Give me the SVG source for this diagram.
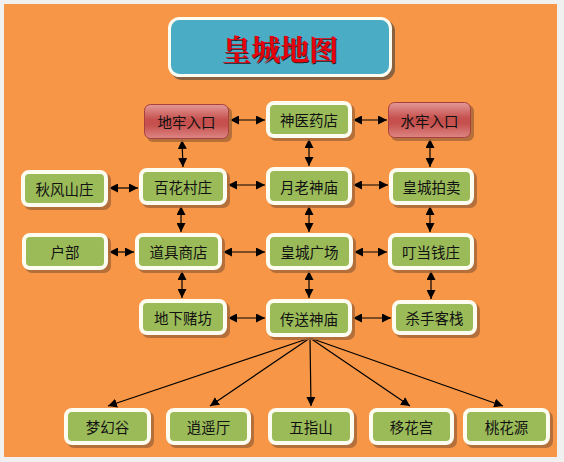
<svg xmlns="http://www.w3.org/2000/svg" width="564" height="462" viewBox="0 0 564 462">
<defs>
<linearGradient id="redg" x1="0" y1="0" x2="0" y2="1">
<stop offset="0" stop-color="#e39a98"/>
<stop offset="0.45" stop-color="#c5504d"/>
<stop offset="0.6" stop-color="#c5504d"/>
<stop offset="1" stop-color="#dd8684"/>
</linearGradient>
<marker id="ah" viewBox="0 0 10 10" refX="10" refY="5" markerWidth="9" markerHeight="9" markerUnits="userSpaceOnUse" orient="auto-start-reverse">
<path d="M0,0 L10,5 L0,10 z" fill="#000"/>
</marker>
</defs>
<style>
.sh{fill:#a8683a;opacity:0.85}
.g{fill:#9bbb59;stroke:#fcfcf0;stroke-width:4}
.r{fill:url(#redg);stroke:#a84040;stroke-width:1}
.t{font-family:"Noto Sans CJK SC","Noto Sans",sans-serif;font-size:14.5px;fill:#111;text-anchor:middle;dominant-baseline:central}
.c line{stroke:#000;stroke-width:1.2;marker-end:url(#ah)}
.c .b{marker-start:url(#ah)}
</style>
<rect x="0" y="0" width="564" height="462" fill="#f0f0f0"/>
<rect x="4" y="4" width="553" height="453" fill="#f79646"/>

<g id="title">
<rect x="171" y="20" width="224" height="60" rx="11" fill="#8a6240"/>
<rect x="169.5" y="18.5" width="221" height="57" rx="10" fill="#4bacc6" stroke="#fdfdf2" stroke-width="3"/>
<text x="281" y="49.5" font-family="'Noto Serif CJK SC','Noto Sans CJK SC',serif" font-size="29" font-weight="bold" fill="#222" text-anchor="middle" dominant-baseline="central">皇城地图</text>
<text x="280" y="48.5" font-family="'Noto Serif CJK SC','Noto Sans CJK SC',serif" font-size="29" font-weight="bold" fill="#e8000c" text-anchor="middle" dominant-baseline="central">皇城地图</text>
</g>

<g class="c" id="connectors">
<line class="b" x1="230" y1="120" x2="265" y2="120"/>
<line class="b" x1="353" y1="120" x2="387" y2="120"/>
<line class="b" x1="182" y1="140" x2="183" y2="167"/>
<line class="b" x1="309" y1="139" x2="309" y2="166"/>
<line class="b" x1="430" y1="139" x2="430" y2="167"/>
<line class="b" x1="109" y1="188" x2="138" y2="188"/>
<line class="b" x1="228" y1="185" x2="265" y2="185"/>
<line class="b" x1="353" y1="185" x2="388" y2="185"/>
<line class="b" x1="181" y1="206" x2="181" y2="232"/>
<line class="b" x1="309" y1="206" x2="309" y2="232"/>
<line class="b" x1="430" y1="206" x2="430" y2="232"/>
<line class="b" x1="109" y1="252" x2="134" y2="252"/>
<line class="b" x1="223" y1="252" x2="265" y2="252"/>
<line class="b" x1="354" y1="252" x2="387" y2="252"/>
<line class="b" x1="182" y1="271" x2="182" y2="298"/>
<line class="b" x1="309" y1="271" x2="309" y2="298"/>
<line class="b" x1="431" y1="271" x2="431" y2="299"/>
<line class="b" x1="228" y1="318" x2="265" y2="318"/>
<line class="b" x1="353" y1="318" x2="391" y2="318"/>
<line x1="310" y1="338" x2="108" y2="406"/>
<line x1="310" y1="338" x2="210" y2="406"/>
<line x1="310" y1="338" x2="311" y2="406"/>
<line x1="310" y1="338" x2="410" y2="406"/>
<line x1="310" y1="338" x2="503" y2="406"/>
</g>

<g id="n-dilao"><rect class="sh" x="147" y="107" width="85" height="35" rx="6"/><rect class="r" x="144.5" y="104.5" width="84" height="34" rx="6"/><text class="t" x="186.5" y="121.5">地牢入口</text></g>
<g id="n-shenyi"><rect class="sh" x="269" y="104" width="86" height="37" rx="7"/><rect class="g" x="268" y="103" width="82" height="33" rx="6"/><text class="t" x="309" y="119.5">神医药店</text></g>
<g id="n-shuilao"><rect class="sh" x="391" y="105" width="83" height="36" rx="6"/><rect class="r" x="388.5" y="102.5" width="82" height="35" rx="6"/><text class="t" x="429.5" y="120">水牢入口</text></g>

<g id="n-qiufeng"><rect class="sh" x="24" y="173" width="87" height="37" rx="7"/><rect class="g" x="23" y="172" width="83" height="33" rx="6"/><text class="t" x="64.5" y="188.5">秋风山庄</text></g>
<g id="n-baihua"><rect class="sh" x="142" y="171" width="88" height="37" rx="7"/><rect class="g" x="141" y="170" width="84" height="33" rx="6"/><text class="t" x="183" y="186.5">百花村庄</text></g>
<g id="n-yuelao"><rect class="sh" x="269" y="170" width="86" height="38" rx="7"/><rect class="g" x="268" y="169" width="82" height="34" rx="6"/><text class="t" x="309" y="186">月老神庙</text></g>
<g id="n-paimai"><rect class="sh" x="392" y="171" width="85" height="37" rx="7"/><rect class="g" x="391" y="170" width="81" height="33" rx="6"/><text class="t" x="431.5" y="186.5">皇城拍卖</text></g>

<g id="n-hubu"><rect class="sh" x="25" y="236" width="86" height="37" rx="7"/><rect class="g" x="24" y="235" width="82" height="33" rx="6"/><text class="t" x="65" y="251.5">户部</text></g>
<g id="n-daoju"><rect class="sh" x="138" y="236" width="87" height="37" rx="7"/><rect class="g" x="137" y="235" width="83" height="33" rx="6"/><text class="t" x="178.5" y="251.5">道具商店</text></g>
<g id="n-guangchang"><rect class="sh" x="269" y="236" width="87" height="37" rx="7"/><rect class="g" x="268" y="235" width="83" height="33" rx="6"/><text class="t" x="309.5" y="251.5">皇城广场</text></g>
<g id="n-qianzhuang"><rect class="sh" x="391" y="236" width="86" height="37" rx="7"/><rect class="g" x="390" y="235" width="82" height="33" rx="6"/><text class="t" x="431" y="251.5">叮当钱庄</text></g>

<g id="n-dixia"><rect class="sh" x="142" y="302" width="88" height="36" rx="7"/><rect class="g" x="141" y="301" width="84" height="32" rx="6"/><text class="t" x="183" y="317">地下赌坊</text></g>
<g id="n-chuansong"><rect class="sh" x="269" y="302" width="86" height="38" rx="7"/><rect class="g" x="268" y="301" width="82" height="34" rx="6"/><text class="t" x="309" y="318">传送神庙</text></g>
<g id="n-shashou"><rect class="sh" x="395" y="303" width="85" height="35" rx="7"/><rect class="g" x="394" y="302" width="81" height="31" rx="6"/><text class="t" x="434.5" y="317.5">杀手客栈</text></g>

<g id="n-menghuan"><rect class="sh" x="67" y="411" width="87" height="37" rx="7"/><rect class="g" x="66" y="410" width="83" height="33" rx="6"/><text class="t" x="107.5" y="426.5">梦幻谷</text></g>
<g id="n-xiaoyao"><rect class="sh" x="169" y="411" width="85" height="37" rx="7"/><rect class="g" x="168" y="410" width="81" height="33" rx="6"/><text class="t" x="208.5" y="426.5">逍遥厅</text></g>
<g id="n-wuzhi"><rect class="sh" x="271" y="411" width="86" height="37" rx="7"/><rect class="g" x="270" y="410" width="82" height="33" rx="6"/><text class="t" x="311" y="426.5">五指山</text></g>
<g id="n-yihua"><rect class="sh" x="372" y="411" width="85" height="37" rx="7"/><rect class="g" x="371" y="410" width="81" height="33" rx="6"/><text class="t" x="411.5" y="426.5">移花宫</text></g>
<g id="n-taohua"><rect class="sh" x="466" y="411" width="87" height="37" rx="7"/><rect class="g" x="465" y="410" width="83" height="33" rx="6"/><text class="t" x="506.5" y="426.5">桃花源</text></g>
</svg>
